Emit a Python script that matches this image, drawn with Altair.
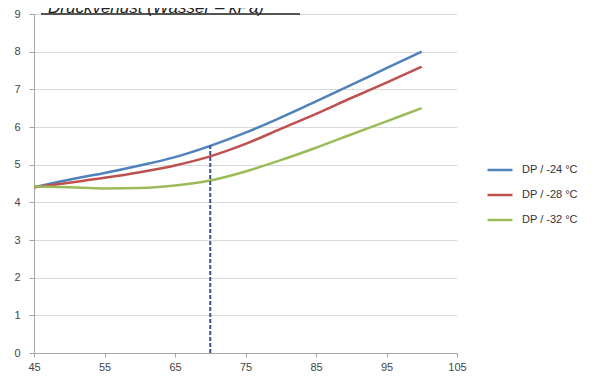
import altair as alt
import pandas as pd

x_vals = [45, 50, 55, 60, 65, 70, 75, 80, 85, 90, 95, 100]
dp24 = [4.40, 4.60, 4.78, 4.98, 5.20, 5.50, 5.85, 6.25, 6.68, 7.12, 7.56, 8.00]
dp28 = [4.40, 4.52, 4.65, 4.80, 4.98, 5.22, 5.55, 5.95, 6.35, 6.77, 7.18, 7.60]
dp32 = [4.42, 4.40, 4.37, 4.38, 4.45, 4.58, 4.82, 5.12, 5.45, 5.80, 6.15, 6.50]
series = ["DP / -24 °C", "DP / -28 °C", "DP / -32 °C"]
colors = ["#4F81BD", "#C0504D", "#9BBB59"]
marker_x = [70]
marker_y0 = [0]
marker_y1 = [5.5]
title_text = "Druckverlust (Wasser – kPa)"
x_ticks = [45, 55, 65, 75, 85, 95, 105]
y_ticks = [0, 1, 2, 3, 4, 5, 6, 7, 8, 9]

rows = []
for name, vals in zip(series, [dp24, dp28, dp32]):
    for xv, yv in zip(x_vals, vals):
        rows.append({"x": xv, "y": yv, "series": name})
df = pd.DataFrame(rows)

xscale = alt.Scale(domain=[45, 105], nice=False, zero=False)
yscale = alt.Scale(domain=[0, 9], nice=False, zero=True)

x_axis = alt.Axis(values=x_ticks, grid=False, labelFontSize=11, labelColor="#444",
                  domainColor="#a6a6a6", tickColor="#a6a6a6", tickSize=4,
                  labelPadding=4, labelFont="Liberation Sans", title=None,
                  labelFlush=False, labelOverlap=False, labelBound=False)
y_axis = alt.Axis(values=y_ticks, grid=True, gridColor="#d9d9d9", labelFontSize=11,
                  labelColor="#444", domainColor="#a6a6a6", tickColor="#a6a6a6",
                  tickSize=5, labelPadding=9, labelFont="Liberation Sans", title=None,
                  labelFlush=False, labelOverlap=False, labelBound=False)

lines = alt.Chart(df).mark_line(strokeWidth=2.5, interpolate="monotone").encode(
    x=alt.X("x:Q", scale=xscale, axis=x_axis, title=None),
    y=alt.Y("y:Q", scale=yscale, axis=y_axis, title=None),
    color=alt.Color("series:N", scale=alt.Scale(domain=series, range=colors),
                    legend=alt.Legend(title=None, orient="none", legendX=452, legendY=142,
                                      symbolType="stroke", symbolSize=625, symbolStrokeWidth=2.5,
                                      labelFontSize=11, labelColor="#333", labelFont="Liberation Sans",
                                      labelOffset=8, rowPadding=6)),
)

mdf = pd.DataFrame({"x": marker_x, "y0": marker_y0, "y1": marker_y1})
marker = alt.Chart(mdf).mark_rule(color="#3d4f8f", strokeWidth=2, strokeDash=[4, 2]).encode(
    x=alt.X("x:Q", scale=xscale, axis=x_axis, title=None),
    y=alt.Y("y0:Q", scale=yscale, axis=y_axis, title=None),
    y2="y1:Q",
)

tdf = pd.DataFrame({"t": [title_text]})
title = alt.Chart(tdf).mark_text(align="left", baseline="alphabetic", fontSize=17,
                                 fontStyle="italic", font="Liberation Sans", color="#222").encode(
    text="t:N", x=alt.value(14), y=alt.value(-1))
underline = alt.Chart(tdf).mark_rule(color="#555", strokeWidth=2).encode(
    x=alt.value(7), x2=alt.value(266), y=alt.value(0))

chart = alt.layer(lines, marker, underline, title).properties(
    width=423, height=339,
    autosize=alt.AutoSizeParams(type="none"),
    padding={"left": 26, "top": 6, "right": 142, "bottom": 22},
).configure_view(stroke=None)

chart.save("out.html", embed_options={"renderer": "svg", "actions": False})
